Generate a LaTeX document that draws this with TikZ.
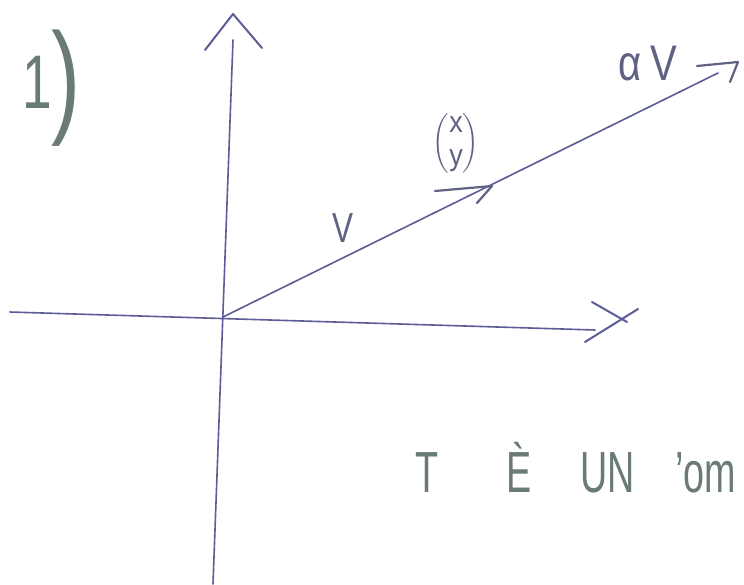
\documentclass[tikz,border=0pt]{standalone}
\usepackage{fontspec}
\setmainfont{Liberation Sans}
\usepackage{amsmath}
\definecolor{axisc}{RGB}{92,92,150}
\definecolor{inkc}{RGB}{95,98,130}
\definecolor{pencil}{RGB}{105,122,120}
\begin{document}
\begin{tikzpicture}[x=1pt,y=-1pt,line cap=round,line join=round,
  axis/.style={draw=axisc,line width=1.6pt},
  tip/.style={draw=axisc,line width=2pt},
  vecmark/.style={draw=inkc,line width=2.2pt},
  lbl/.style={text=inkc,inner sep=0pt},
  pen/.style={text=pencil,inner sep=0pt}]
\useasboundingbox (0,0) rectangle (744,584);
\clip (0,0) rectangle (744,584);
\fill[white] (0,0) rectangle (744,584);
% axes and vector
\coordinate (O) at (223,317);
\coordinate (ytop) at (233,40);
\coordinate (ybot) at (213,584);
\coordinate (xl) at (10,312);
\coordinate (xr) at (595,330);
\coordinate (vend) at (718,73);
\draw[axis] (ybot) -- (ytop);
\draw[axis] (xl) -- (xr);
\draw[axis] (O) -- (vend);
% arrow heads of axes
\coordinate (yhl) at (205,50);
\coordinate (yha) at (233,14);
\coordinate (yhr) at (262,48);
\draw[tip] (yhl) -- (yha) -- (yhr);
\coordinate (xh1a) at (592,302);
\coordinate (xh1b) at (627,322);
\coordinate (xh2a) at (585,342);
\coordinate (xh2b) at (638,309);
\draw[tip] (xh1a) -- (xh1b);
\draw[tip] (xh2a) -- (xh2b);
% labels
\node[lbl,font=\fontsize{42}{42}\selectfont,xscale=0.75] (v) at (343,228) {V};
\node[lbl,anchor=base west,font=\fontsize{50}{50}\selectfont,xscale=0.8] (av) at (618,80) {α\hspace{12pt}V};
\coordinate (av1) at (697,66);
\coordinate (av2) at (738,62);
\coordinate (av3) at (730,82);
\draw[vecmark] (av1) -- (av2) -- (av3);
\node[lbl,font=\fontsize{30}{30}\selectfont,xscale=0.9] (xy) at (456,143) {$\left(\begin{array}{@{}c@{}}\text{x}\\[3pt]\text{y}\end{array}\right)$};
\coordinate (xy1) at (435,191);
\coordinate (xy2) at (492,186);
\coordinate (xy3) at (477,203);
\draw[vecmark] (xy1) -- (xy2) -- (xy3);
% pencil texts
\node[pen,anchor=base west,xscale=0.7] (one) at (22,108) {{\fontsize{76}{76}\selectfont 1}\raisebox{-12pt}{\fontsize{125}{125}\selectfont )}};
\node[pen,anchor=base west,xscale=0.65,font=\fontsize{58}{58}\selectfont] (txt) at (415,492) {T\hspace{105pt}È\hspace{75pt}UN\hspace{62pt}’om};
\end{tikzpicture}
\end{document}
